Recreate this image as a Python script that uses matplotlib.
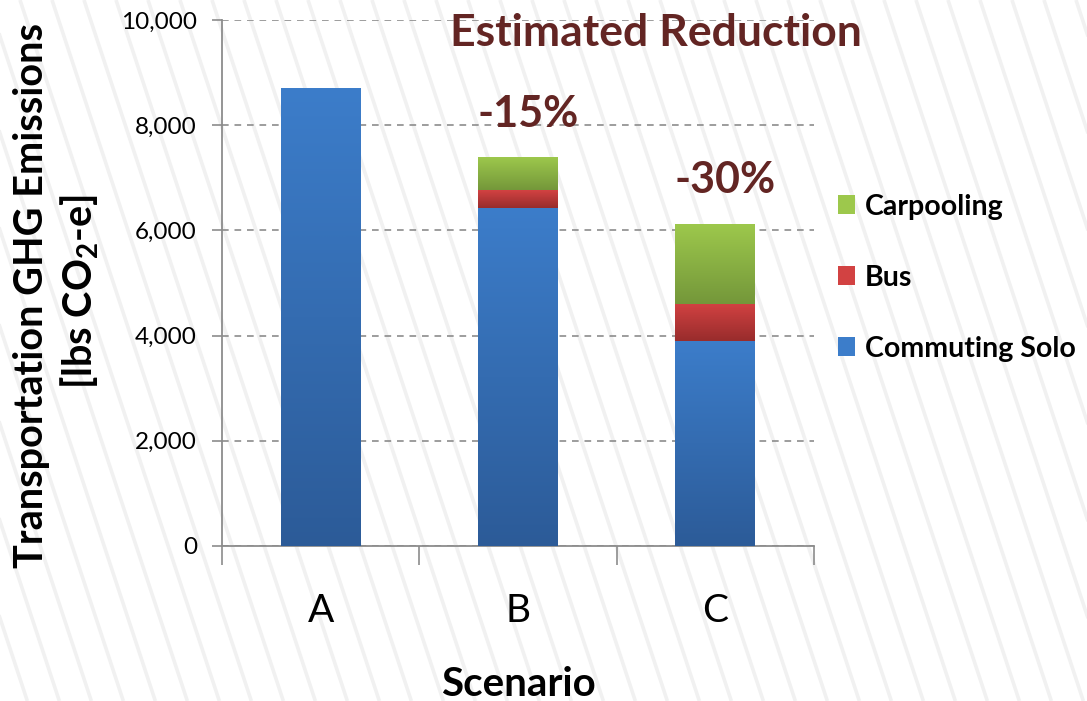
import numpy as np
import matplotlib
matplotlib.use('Agg')
import matplotlib.pyplot as plt
from matplotlib.colors import LinearSegmentedColormap
from matplotlib.patches import Patch

plt.rcParams['font.family'] = ['Lato', 'DejaVu Sans']
plt.rcParams['mathtext.fontset'] = 'custom'
plt.rcParams['mathtext.rm'] = 'Lato:bold'
plt.rcParams['mathtext.bf'] = 'Lato:bold'

# data
scenarios = ['A', 'B', 'C']
solo = [8700, 6430, 3900]
bus = [0, 340, 710]
carpool = [0, 610, 1510]
reductions = ['', '-15%', '-30%']

series = [('Commuting Solo', solo, '#3c7dca', '#2c5b98'),
          ('Bus', bus, '#d24242', '#982c2c'),
          ('Carpooling', carpool, '#9dc84c', '#74973a')]

W, H = 1087, 701
fig = plt.figure(figsize=(W / 100, H / 100), dpi=100)

# faint striped background
bg = fig.add_axes([0, 0, 1, 1], zorder=-10)
bg.set_xlim(0, W)
bg.set_ylim(H, 0)
bg.axis('off')
for x0 in np.arange(-300, W + 40, 32):
    bg.plot([x0, x0 + 0.33 * H], [0, H], color='#f1f1f1', lw=2.6, solid_capstyle='butt')

ax = fig.add_axes([222 / W, 1 - 546 / H, (814 - 222) / W, (546 - 20) / H])
ax.set_facecolor('none')

x = np.arange(len(scenarios))
width = 0.405
bottom = np.zeros(len(scenarios))
for name, vals, top_c, bot_c in series:
    vals = np.array(vals, dtype=float)
    bars = ax.bar(x, vals, width, bottom=bottom, color='none', label=name, zorder=3)
    cmap = LinearSegmentedColormap.from_list(name, [bot_c, top_c])
    for b in bars:
        if b.get_height() <= 0:
            continue
        grad = np.linspace(0, 1, 256).reshape(-1, 1)
        ax.imshow(grad, cmap=cmap, origin='lower', aspect='auto', zorder=3,
                  extent=[b.get_x(), b.get_x() + b.get_width(), b.get_y(), b.get_y() + b.get_height()])
    bottom += vals

ax.set_xlim(-0.5, 2.5)
ax.set_ylim(0, 10000)
ax.set_yticks(np.arange(0, 10001, 2000))
ax.set_yticklabels([f'{v:,}' for v in range(0, 10001, 2000)], fontsize=17.5)
ax.yaxis.grid(True, linestyle=(0, (4, 3.5)), color='#8c8c8c', lw=1.2, zorder=1)
ax.set_axisbelow(True)

ax.set_xticks([-0.5, 0.5, 1.5, 2.5])
ax.set_xticklabels([])
ax.set_xticks(x, minor=True)
ax.set_xticklabels(scenarios, minor=True, fontsize=28)
ax.tick_params(axis='x', which='major', direction='out', length=14, width=1.2, color='#8c8c8c')
ax.tick_params(axis='x', which='minor', length=0, pad=34)
ax.tick_params(axis='y', direction='out', length=7, width=1.2, color='#8c8c8c', pad=11)

for s in ['top', 'right']:
    ax.spines[s].set_visible(False)
for s in ['left', 'bottom']:
    ax.spines[s].set_color('#8c8c8c')
    ax.spines[s].set_linewidth(1.3)

totals = bottom
for i, lab in enumerate(reductions):
    if lab:
        ax.text(x[i] + 0.05, totals[i] + 460, lab, ha='center', va='bottom',
                fontsize=31, fontweight='bold', color='#632523')

fig.text(656 / W, 1 - 33 / H, 'Estimated Reduction', ha='center', va='center',
         fontsize=32, fontweight='bold', color='#632523')

fig.text(518 / W, 1 - 684 / H, 'Scenario', ha='center', va='center',
         fontsize=29, fontweight='bold')
fig.text(32 / W, 1 - 296 / H, 'Transportation GHG Emissions', rotation=90,
         ha='center', va='center', fontsize=28.5, fontweight='bold')
fig.text(80 / W, 1 - 292 / H, r'[lbs CO$_\mathrm{2}$-e]', rotation=90,
         ha='center', va='center', fontsize=28.5, fontweight='bold')

handles = [Patch(facecolor=c[2], edgecolor='none') for c in series[::-1]]
labels = [c[0] for c in series[::-1]]
fig.legend(handles, labels, loc='upper left', bbox_to_anchor=(812 / W, 1 - 168 / H),
           frameon=False, handlelength=0.62, handleheight=0.62, handletextpad=0.33,
           labelspacing=1.58, prop={'weight': 'bold', 'size': 20.5})

fig.savefig('out.png', dpi=100)
